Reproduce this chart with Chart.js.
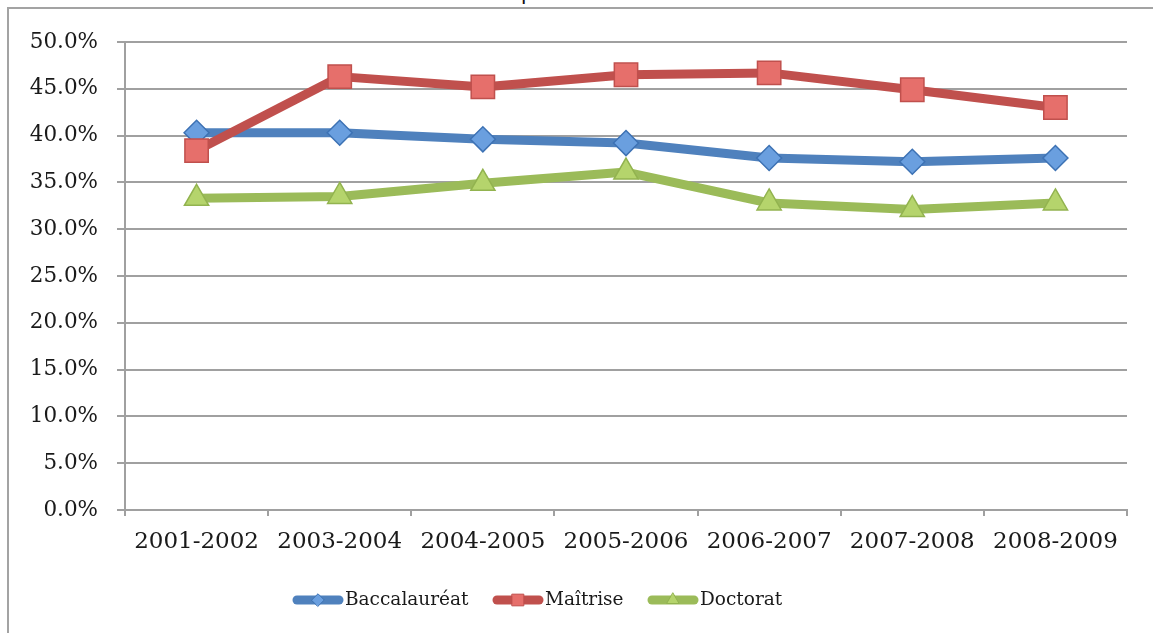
<!DOCTYPE html>
<html>
<head>
<meta charset="utf-8">
<script src="https://cdn.jsdelivr.net/npm/chart.js@4/dist/chart.umd.min.js"></script>
<style>
  html, body { margin: 0; padding: 0; background: #fff; overflow: hidden; }
  #frame {
    position: absolute; left: 7px; top: 7px; width: 1160px; height: 640px;
    border-left: 2px solid #a3a3a3; border-top: 2px solid #a3a3a3;
  }
  #cut {
    position: absolute; left: 521px; top: -17px; font: 20px/20px "DejaVu Sans"; color: #111;
  }
  #wrap { position: absolute; left: 0; top: 0; width: 1153px; height: 633px; }
</style>
</head>
<body>
<div id="frame"></div>
<div id="cut">p</div>
<div id="wrap"><canvas id="chart" width="1153" height="633"></canvas></div>
<script>
// Categories and series (percent)
const years = ['2001-2002', '2003-2004', '2004-2005', '2005-2006', '2006-2007', '2007-2008', '2008-2009'];
const baccalaureat = [40.3, 40.3, 39.6, 39.2, 37.6, 37.2, 37.6];
const maitrise = [38.4, 46.3, 45.2, 46.5, 46.7, 44.9, 43.0];
const doctorat = [33.3, 33.5, 34.9, 36.1, 32.8, 32.1, 32.8];
const yTicks = [0, 5, 10, 15, 20, 25, 30, 35, 40, 45, 50];

const serif = '"DejaVu Serif", "Liberation Serif", serif';
const textColor = '#1a1a1a';

// Series styles
const series = [
    { label: 'Baccalauréat', data: baccalaureat, line: '#4f81bd', fill: '#6a9fdf', edge: '#3d72b4', style: 'rectRot', radius: 12.5, order: 3 },
    { label: 'Maîtrise', data: maitrise, line: '#c0504d', fill: '#e66f6b', edge: '#c0504d', style: 'rect', radius: 16.5, order: 2 },
    { label: 'Doctorat', data: doctorat, line: '#9bbb59', fill: '#b5d46c', edge: '#92b34f', style: 'triangle', radius: 14, order: 1 }
];

// Hand-drawn legend (line sample with marker in the middle)
const legendPlugin = {
    id: 'excelLegend',
    afterDraw(chart) {
        const ctx = chart.ctx;
        const starts = [293, 493, 648];
        const y = 600;
        ctx.save();
        series.forEach((s, i) => {
            const x = starts[i];
            ctx.strokeStyle = s.line;
            ctx.lineWidth = 9;
            ctx.lineCap = 'round';
            ctx.beginPath();
            ctx.moveTo(x + 4, y);
            ctx.lineTo(x + 46, y);
            ctx.stroke();
            ctx.fillStyle = s.fill;
            ctx.strokeStyle = s.edge;
            ctx.lineWidth = 1;
            Chart.helpers.drawPoint(ctx, { pointStyle: s.style, radius: s.radius * 0.5, rotation: 0, borderWidth: 1 }, x + 25, y);
            ctx.fillStyle = textColor;
            ctx.font = '18.5px ' + serif;
            ctx.textBaseline = 'middle';
            ctx.textAlign = 'left';
            ctx.fillText(s.label, x + 52, y);
        });
        ctx.restore();
    }
};

new Chart(document.getElementById('chart'), {
    type: 'line',
    data: {
        labels: years,
        datasets: series.map(s => ({
            label: s.label,
            data: s.data,
            order: s.order,
            borderColor: s.line,
            borderWidth: 9,
            borderJoinStyle: 'round',
            borderCapStyle: 'round',
            tension: 0,
            pointStyle: s.style,
            pointRadius: s.radius,
            pointBackgroundColor: s.fill,
            pointBorderColor: s.edge,
            pointBorderWidth: 1.5
        }))
    },
    options: {
        responsive: false,
        animation: false,
        layout: { padding: { left: 0, right: 26, top: 42, bottom: 63 } },
        plugins: { legend: { display: false }, tooltip: { enabled: false } },
        scales: {
            x: {
                offset: true,
                grid: { drawOnChartArea: false, offset: true, tickLength: 6, color: '#a0a0a0', lineWidth: 2 },
                border: { color: '#a0a0a0', width: 2 },
                ticks: { color: textColor, font: { family: serif, size: 23 }, padding: 12, maxRotation: 0 },
                afterFit: s => { s.height = 60; }
            },
            y: {
                min: 0,
                max: 50,
                afterBuildTicks: s => { s.ticks = yTicks.map(v => ({ value: v })); },
                grid: { color: '#a0a0a0', lineWidth: 2, tickLength: 8 },
                border: { color: '#a0a0a0', width: 2 },
                ticks: { color: textColor, font: { family: serif, size: 21.5 }, padding: 19, callback: v => v.toFixed(1) + '%' },
                afterFit: s => { s.width = 125; }
            }
        }
    },
    plugins: [legendPlugin]
});
</script>
</body>
</html>
